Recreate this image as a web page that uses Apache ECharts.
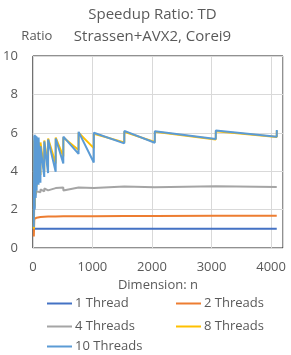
<!DOCTYPE html>
<html>
<head>
<meta charset="utf-8">
<script src="https://cdn.jsdelivr.net/npm/echarts@6/dist/echarts.min.js"></script>
<style>
html,body{margin:0;padding:0;background:#fff;}
#c{width:291px;height:355px;}
</style>
</head>
<body>
<div id="c"></div>
<script>
const titleLines = ['Speedup Ratio: TD', 'Strassen+AVX2, Corei9'];
const xName = 'Dimension: n';
const yName = 'Ratio';
const seriesNames = ['1 Thread', '2 Threads', '4 Threads', '8 Threads', '10 Threads'];
const seriesColors = ['#4472C4', '#ED7D31', '#A5A5A5', '#FFC000', '#5B9BD5'];

const dims = [16, 24, 31, 32, 47, 48, 63, 64, 95, 96, 127, 128, 191, 192, 255, 256, 383, 384, 511, 512, 767, 768, 1023, 1024, 1535, 1536, 2047, 2048, 3071, 3072, 4095, 4096];
const t1  = [1.0, 1.0, 1.0, 1.0, 1.0, 1.0, 1.0, 1.0, 1.0, 1.0, 1.0, 1.0, 1.0, 1.0, 1.0, 1.0, 1.0, 1.0, 1.0, 1.0, 1.0, 1.0, 1.0, 1.0, 1.0, 1.0, 1.0, 1.0, 1.0, 1.0, 1.0, 1.0];
const t2  = [0.6, 1.5, 1.45, 1.58, 1.55, 1.6, 1.58, 1.62, 1.6, 1.63, 1.62, 1.64, 1.63, 1.65, 1.64, 1.65, 1.64, 1.66, 1.65, 1.66, 1.66, 1.67, 1.66, 1.67, 1.67, 1.68, 1.67, 1.68, 1.68, 1.69, 1.68, 1.68];
const t4  = [1.0, 2.3, 2.1, 2.6, 2.5, 2.8, 2.7, 2.95, 2.85, 3.0, 2.9, 3.05, 2.95, 3.1, 3.0, 3.1, 3.12, 3.1, 3.15, 3.0, 3.15, 3.22, 3.12, 3.08, 3.2, 3.22, 3.17, 3.13, 3.22, 3.26, 3.18, 3.2];
const t8  = [1.0, 5.6, 2.2, 5.7, 2.8, 5.7, 3.2, 5.6, 3.6, 5.5, 3.8, 5.5, 4.0, 5.6, 4.2, 5.7, 4.4, 5.75, 4.76, 5.75, 5.1, 6.0, 5.2, 5.95, 5.5, 6.05, 5.52, 6.05, 5.65, 6.08, 5.78, 6.1];
const t10 = [1.1, 5.85, 2.0, 5.9, 2.6, 5.85, 3.0, 5.8, 3.3, 5.75, 3.4, 5.3, 3.7, 5.55, 3.9, 5.65, 3.97, 5.7, 4.4, 5.8, 4.9, 6.05, 4.45, 6.0, 5.45, 6.1, 5.48, 6.08, 5.68, 6.12, 5.8, 6.15];

const allSeries = [t1, t2, t4, t8, t10];
const FONT = '"Open Sans", sans-serif';
const TXT = '#595959';

// legend placement per item: [left, top]
const legendPos = [[47, 297], [176, 297], [47, 320], [176, 320], [47, 340]];

const chart = echarts.init(document.getElementById('c'), null, {renderer: 'canvas'});
chart.setOption({
  animation: false,
  backgroundColor: '#fff',
  textStyle: {fontFamily: FONT},
  graphic: [
    {type: 'text', x: 152.5, y: 15, style: {text: titleLines[0], font: '15px ' + FONT, fill: TXT, align: 'center', verticalAlign: 'middle'}},
    {type: 'text', x: 152.5, y: 37, style: {text: titleLines[1], font: '15px ' + FONT, fill: TXT, align: 'center', verticalAlign: 'middle'}}
  ],
  grid: {left: 30, right: 8, top: 56, bottom: 107, show: true, borderColor: '#222', borderWidth: 1, containLabel: false},
  xAxis: {
    type: 'value', min: 0, max: 4200, interval: 1000,
    name: xName, nameLocation: 'middle', nameGap: 28,
    nameTextStyle: {fontSize: 13, color: TXT, fontFamily: FONT},
    axisLine: {show: false}, axisTick: {show: false},
    axisLabel: {fontSize: 13, color: TXT, fontFamily: FONT, margin: 13, formatter: v => (v % 1000 === 0 ? String(v) : '')},
    splitLine: {show: true, lineStyle: {color: '#D9D9D9', width: 1}}
  },
  yAxis: {
    type: 'value', min: 0, max: 10, interval: 2,
    name: yName, nameLocation: 'end', nameGap: 13,
    nameTextStyle: {fontSize: 13, color: TXT, fontFamily: FONT, align: 'center', padding: [0, 0, 0, 8]},
    axisLine: {show: false}, axisTick: {show: false},
    axisLabel: {fontSize: 13, color: TXT, fontFamily: FONT, margin: 15},
    splitLine: {show: true, lineStyle: {color: '#D9D9D9', width: 1}}
  },
  legend: seriesNames.map((nm, i) => ({
    left: legendPos[i][0], top: legendPos[i][1], padding: 0,
    itemWidth: 25, itemHeight: 2, icon: 'rect',
    textStyle: {fontSize: 13, color: TXT, fontFamily: FONT, padding: [0, 0, 0, -2]},
    data: [nm]
  })),
  series: seriesNames.map((nm, i) => ({
    name: nm, type: 'line', symbol: 'none', smooth: false,
    data: dims.map((d, k) => [d, allSeries[i][k]]),
    lineStyle: {color: seriesColors[i], width: 2},
    itemStyle: {color: seriesColors[i]},
    z: 2 + i
  }))
});
</script>
</body>
</html>
